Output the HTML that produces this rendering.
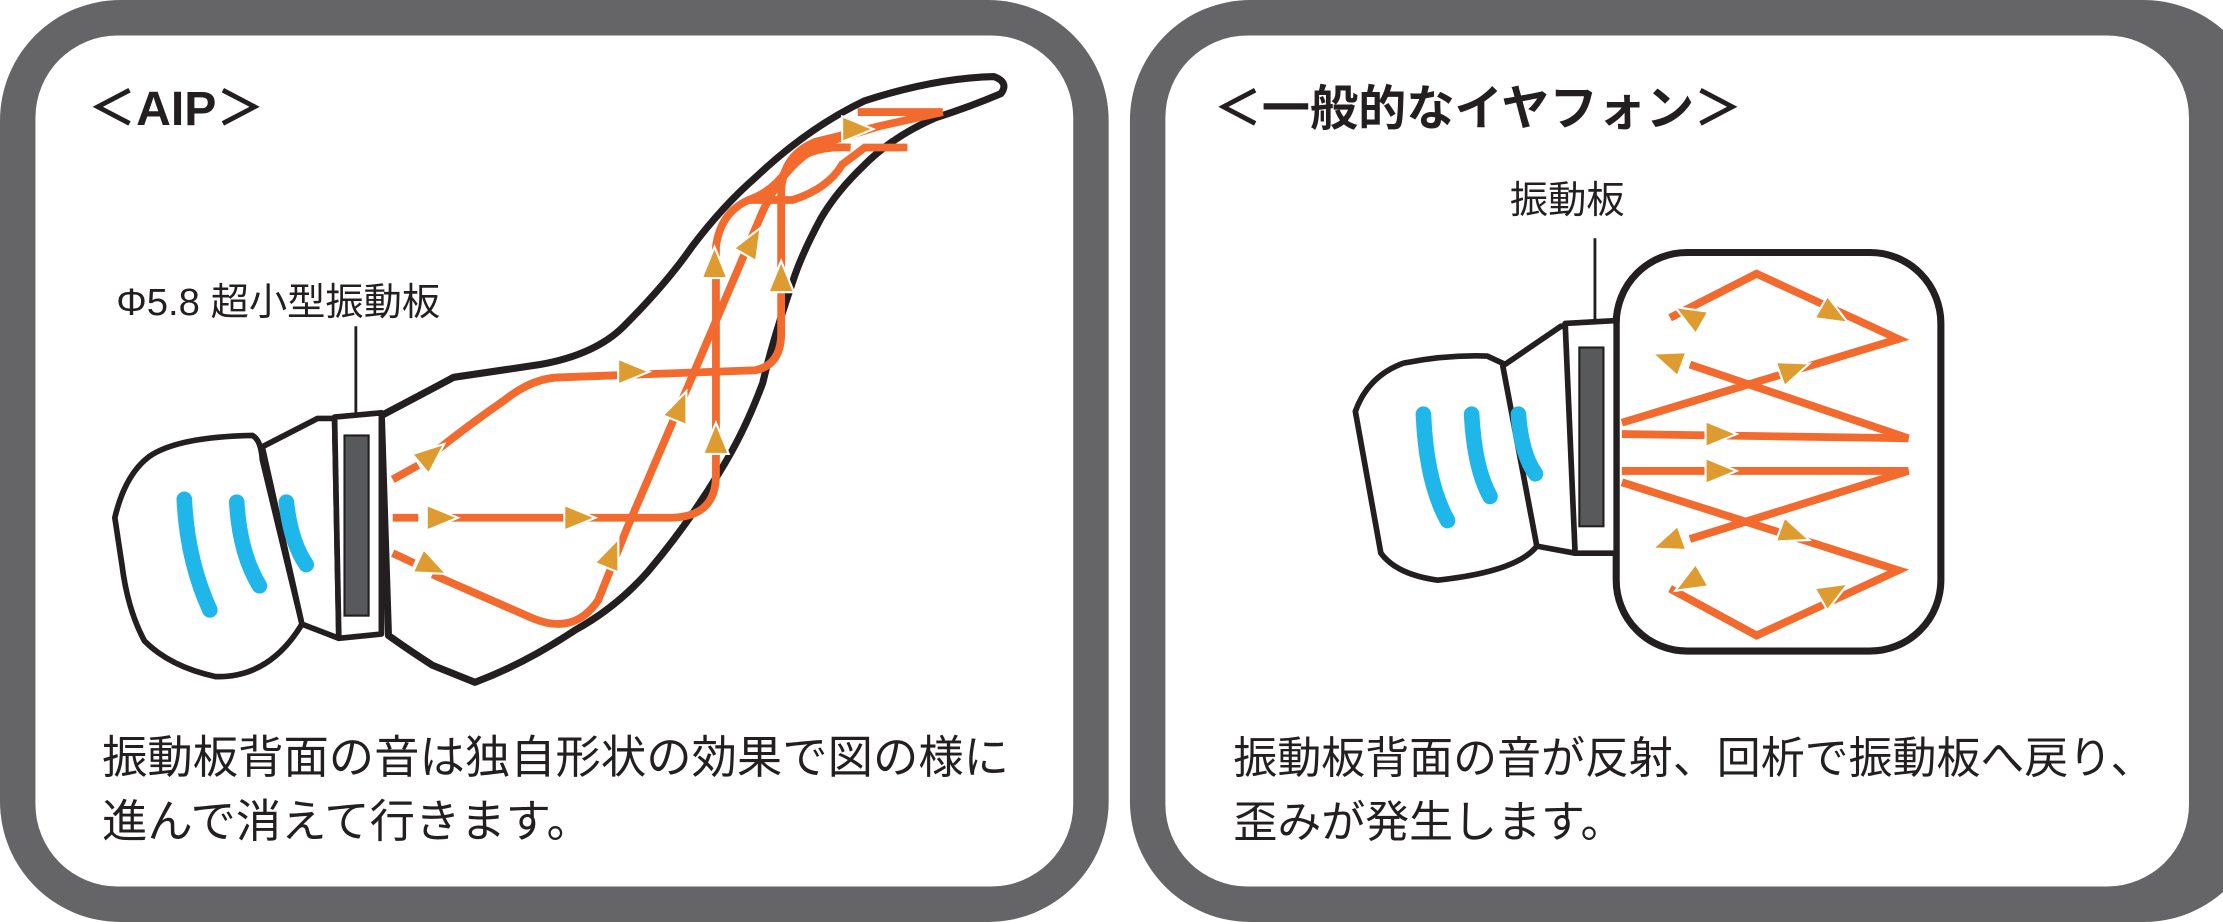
<!DOCTYPE html>
<html><head><meta charset="utf-8"><style>
html,body{margin:0;padding:0;background:#fff;}
svg{display:block}
text{font-family:"Liberation Sans","Noto Sans CJK JP",sans-serif;fill:#231f20}
</style></head><body>
<svg width="2223" height="922" viewBox="0 0 1568 650" preserveAspectRatio="none" xmlns="http://www.w3.org/2000/svg">
<defs>
<polygon id="ar" points="-11,-9 11,0 -11,9" fill="#dd9b30" stroke="#fff" stroke-width="1.5"/>
</defs>
<rect x="0" y="0" width="782" height="650" rx="85" fill="#656567"/>
<rect x="25" y="25" width="732" height="600" rx="58" fill="#fff"/>
<rect x="797" y="0" width="800" height="650" rx="85" fill="#656567"/>
<rect x="822" y="25" width="722" height="600" rx="58" fill="#fff"/>

<text x="62" y="88" font-size="34" font-weight="bold">＜AIP＞</text>
<text x="82" y="222" font-size="27">Φ5.8 超小型振動板</text>
<line x1="251" y1="230" x2="251" y2="292" stroke="#231f20" stroke-width="2"/>

<path d="M269,293 L305,274 L320,266 L381,257 Q420,250 440,230 Q470,200 488,174 Q510,145 533,125 Q570,90 610,71 Q660,55 701,54 Q712,58 706,66 Q685,75 660,83 Q630,96 610,116 Q590,135 579,154 Q565,180 559,199 Q545,240 538,270 Q525,305 508,332 Q485,370 457,403 Q435,428 406,444 Q370,468 335,481 L305,469 Q288,458 274,448 Z" fill="#fff" stroke="#231f20" stroke-width="5" stroke-linejoin="round"/>
<path d="M81,365 Q88,335 105,322 Q125,308 178,307 Q184,310 185,324 L213,440 Q190,478 152,477 Q120,470 102,452 Q90,430 86,398 Z" fill="#fff" stroke="#231f20" stroke-width="4" stroke-linejoin="round"/>
<path d="M185,315 L224,295 L236,295 L239,450 L213,440 Z" fill="#fff" stroke="#231f20" stroke-width="4" stroke-linejoin="round"/>
<path d="M236,294 L269,291 L269,447 L239,450 Z" fill="#fff" stroke="#231f20" stroke-width="4" stroke-linejoin="round"/>
<rect x="243" y="307" width="17" height="127" fill="#58595b" stroke="#231f20" stroke-width="1.5"/>
<g fill="none" stroke="#1fb7ea" stroke-width="11" stroke-linecap="round">
<path d="M130,352 Q132,395 148,430"/>
<path d="M167,354 Q169,390 183,413"/>
<path d="M202,354 Q205,382 216,398"/>
</g>
<g fill="none" stroke="#f26a2e" stroke-width="5.5">
<path d="M277,338 L295,328"/>
<path d="M305,320 Q330,300 356,282 Q376,266 396,266 L533,261 Q551,257 551,235 L551,137 Q551,110 575,100 L620,89"/>
<path d="M277,365 L295,365"/>
<path d="M310,365 L472,365 Q505,365 505,335 L505,174 Q508,150 528,141 L559,141 Q584,133 594,116 L610,104 L640,104"/>
<path d="M277,390 L292,397"/>
<path d="M305,405 L376,436 Q405,448 422,423 L442,373 L488,266 L538,149 Q555,112 584,100 L620,89 L665,79"/>
<path d="M605,79 L665,79"/>
<path d="M528,141 Q545,135 555,120 Q568,102 600,104"/>
</g>
<use href="#ar" transform="translate(305,320) rotate(-40)"/>
<use href="#ar" transform="translate(447,262)"/>
<use href="#ar" transform="translate(312,365)"/>
<use href="#ar" transform="translate(409,365)"/>
<use href="#ar" transform="translate(305,400) rotate(25)"/>
<use href="#ar" transform="translate(432,390) rotate(-68)"/>
<use href="#ar" transform="translate(480,286) rotate(-68)"/>
<use href="#ar" transform="translate(505,309) rotate(-90)"/>
<use href="#ar" transform="translate(504,185) rotate(-90)"/>
<use href="#ar" transform="translate(531,170) rotate(-60)"/>
<use href="#ar" transform="translate(551,195) rotate(-90)"/>
<use href="#ar" transform="translate(605,91)"/>
<text x="72" y="545" font-size="32">振動板背面の音は独自形状の効果で図の様に</text>
<text x="72" y="590" font-size="32">進んで消えて行きます。</text>

<text x="856" y="88" font-size="34" font-weight="bold">＜一般的なイヤフォン＞</text>
<text x="1065" y="150" font-size="27">振動板</text>
<line x1="1125" y1="168" x2="1125" y2="240" stroke="#231f20" stroke-width="2"/>
<rect x="1140" y="178" width="229" height="281" rx="50" fill="#fff" stroke="#231f20" stroke-width="5"/>
<path d="M956,290 Q965,265 990,256 Q1020,250 1049,251 L1064,258 L1084,385 Q1070,403 1014,409 Q985,405 974,390 Z" fill="#fff" stroke="#231f20" stroke-width="4" stroke-linejoin="round"/>
<path d="M1060,258 L1101,230 L1108,230 L1111,390 L1084,385 Z" fill="#fff" stroke="#231f20" stroke-width="4" stroke-linejoin="round"/>
<path d="M1104,228 L1140,226 L1140,390 L1111,390 Z" fill="#fff" stroke="#231f20" stroke-width="4" stroke-linejoin="round"/>
<rect x="1114" y="245" width="17" height="126" fill="#58595b" stroke="#231f20" stroke-width="1.5"/>
<g fill="none" stroke="#1fb7ea" stroke-width="11" stroke-linecap="round">
<path d="M1004,292 Q1006,340 1021,367"/>
<path d="M1038,292 Q1040,330 1051,350"/>
<path d="M1071,292 Q1073,320 1083,334"/>
</g>
<g fill="none" stroke="#f26a2e" stroke-width="5.5" stroke-linejoin="miter">
<path d="M1178,224 L1239,193 L1339,239 L1144,298"/>
<path d="M1192,257 L1346,309 L1144,306"/>
<path d="M1144,332 L1346,332 L1192,380"/>
<path d="M1144,340 L1339,402 L1239,448 L1178,415"/>
</g>
<use href="#ar" transform="translate(1191,222) rotate(-150)"/>
<use href="#ar" transform="translate(1294,222) rotate(30)"/>
<use href="#ar" transform="translate(1176,253) rotate(-160)"/>
<use href="#ar" transform="translate(1266,260) rotate(-20)"/>
<use href="#ar" transform="translate(1214,306)"/>
<use href="#ar" transform="translate(1214,332)"/>
<use href="#ar" transform="translate(1176,383) rotate(160)"/>
<use href="#ar" transform="translate(1266,377) rotate(20)"/>
<use href="#ar" transform="translate(1191,411) rotate(150)"/>
<use href="#ar" transform="translate(1294,417) rotate(-30)"/>
<text x="870" y="545" font-size="31">振動板背面の音が反射、回析で振動板へ戻り、</text>
<text x="870" y="590" font-size="31">歪みが発生します。</text>
</svg>
</body></html>
